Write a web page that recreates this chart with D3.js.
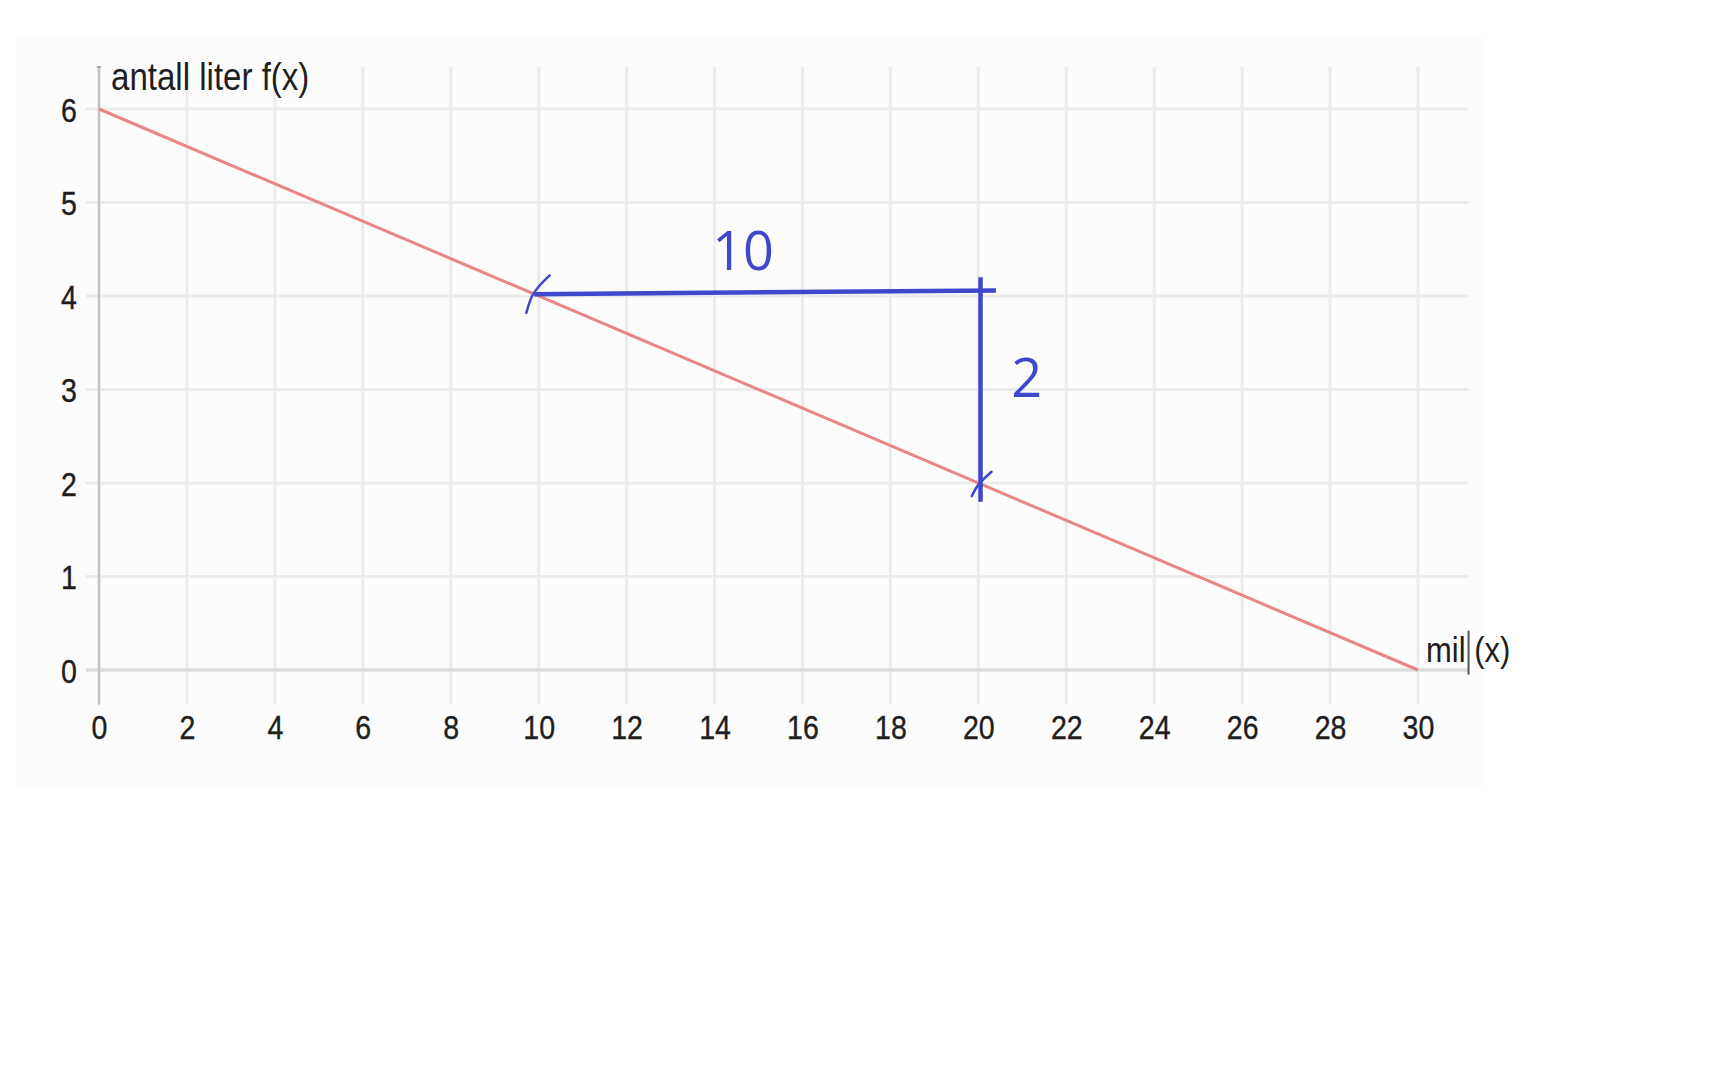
<!DOCTYPE html>
<html>
<head>
<meta charset="utf-8">
<script src="https://cdn.jsdelivr.net/npm/d3@7"></script>
<style>
  html, body { margin: 0; padding: 0; background: #ffffff; }
  svg { display: block; }
</style>
</head>
<body>
<svg id="chart" width="1728" height="1080"></svg>
<script>
// ---- data ----
const xTicks = [0, 2, 4, 6, 8, 10, 12, 14, 16, 18, 20, 22, 24, 26, 28, 30];
const yTicks = [0, 1, 2, 3, 4, 5, 6];
const xLabel = "mil (x)";
const yLabel = "antall liter f(x)";
// f(x) = 6 - x/5
const lineX = [0, 30];
const lineY = [6, 0];
// hand-drawn annotation (data units)
const runLineX = [9.9, 20.4];
const runLineY = [4.02, 4.06];
const riseLineX = [20.05, 20.05];
const riseLineY = [4.2, 1.8];
const tickMarkAX = [9.72, 9.85, 10.0, 10.25];
const tickMarkAY = [3.82, 4.0, 4.1, 4.22];
const tickMarkBX = [19.85, 20.0, 20.3];
const tickMarkBY = [1.86, 1.98, 2.12];
const annotLabels = ["10", "2"];
const annotX = [14.65, 21.1];
const annotY = [4.49, 3.13];

// ---- layout ----
const svg = d3.select("#chart");
const x = d3.scaleLinear().domain([0, 30]).range([99, 1418]);
const y = d3.scaleLinear().domain([0, 6]).range([670, 109]);
const xMax = 31.15, yMax = 6.45, yMinGrid = -0.37;
const font = "'Liberation Sans', Arial, sans-serif";
const ink = "#1e1e1e";

// light panel background
svg.append("rect").attr("x", 17).attr("y", 38).attr("width", 1465).attr("height", 750)
  .attr("fill", "#fcfcfc");

const grid = svg.append("g");
grid.selectAll("line.v").data(xTicks).join("line").attr("class", "v")
  .attr("x1", d => x(d)).attr("x2", d => x(d))
  .attr("y1", y(yMax)).attr("y2", y(yMinGrid))
  .attr("stroke", "#ececec").attr("stroke-width", 3);
grid.selectAll("line.h").data(yTicks).join("line").attr("class", "h")
  .attr("x1", x(-0.3)).attr("x2", x(xMax))
  .attr("y1", d => y(d)).attr("y2", d => y(d))
  .attr("stroke", d => d === 0 ? "#dcdcdc" : "#ececec").attr("stroke-width", d => d === 0 ? 3.5 : 3);

// y axis line
svg.append("line").attr("x1", x(0)).attr("x2", x(0)).attr("y1", y(yMax)).attr("y2", y(yMinGrid))
  .attr("stroke", "#c4c4c4").attr("stroke-width", 2.5);
svg.append("line").attr("x1", x(0) - 2).attr("x2", x(0) + 2).attr("y1", y(yMax)).attr("y2", y(yMax))
  .attr("stroke", "#999").attr("stroke-width", 1.5);
svg.append("line").attr("x1", x(xMax)).attr("x2", x(xMax)).attr("y1", y(-0.05)).attr("y2", y(0.42))
  .attr("stroke", "#555").attr("stroke-width", 2);

// x tick labels via d3 axis
const xAxis = svg.append("g").attr("transform", `translate(0,${y(0) + 45})`)
  .call(d3.axisBottom(x).tickValues(xTicks).tickSize(0).tickFormat(d3.format("d")));
xAxis.select(".domain").remove();
xAxis.selectAll(".tick text")
  .attr("font-family", font).attr("font-size", 34).attr("fill", ink)
  .attr("stroke", ink).attr("stroke-width", 0.4)
  .attr("x", 0).attr("y", 0).attr("dy", "0.71em").attr("text-anchor", "middle")
  .attr("transform", "scale(0.84,1)");

// y tick labels via d3 axis
const yAxis = svg.append("g").attr("transform", `translate(${x(0) - 30},0)`)
  .call(d3.axisLeft(y).tickValues(yTicks).tickSize(0).tickFormat(d3.format("d")));
yAxis.select(".domain").remove();
yAxis.selectAll(".tick text")
  .attr("font-family", font).attr("font-size", 34).attr("fill", ink)
  .attr("stroke", ink).attr("stroke-width", 0.4)
  .attr("x", 0).attr("dy", "0.36em").attr("text-anchor", "middle")
  .attr("transform", "scale(0.84,1)");

// axis titles
svg.append("text").attr("transform", `translate(${x(0) + 12},${y(6) - 19}) scale(0.87,1)`)
  .attr("font-family", font).attr("font-size", 38).attr("fill", ink).text(yLabel);
svg.append("text").attr("transform", `translate(${x(30) + 8},${y(0) - 8}) scale(0.86,1)`)
  .attr("font-family", font).attr("font-size", 36).attr("fill", ink).text(xLabel);

// function line
const linePts = lineX.map((d, i) => [d, lineY[i]]);
const line = d3.line().x(d => x(d[0])).y(d => y(d[1]));
svg.append("path").attr("d", line(linePts)).attr("fill", "none")
  .attr("stroke", "#e98585").attr("stroke-width", 3);

// annotations
const blue = "#3f48cc";
const zip = (a, b) => a.map((d, i) => [d, b[i]]);
svg.append("path").attr("d", line(zip(runLineX, runLineY))).attr("fill", "none")
  .attr("stroke", blue).attr("stroke-width", 4.5);
svg.append("path").attr("d", line(zip(riseLineX, riseLineY))).attr("fill", "none")
  .attr("stroke", blue).attr("stroke-width", 4.5);
const curve = d3.line().x(d => x(d[0])).y(d => y(d[1])).curve(d3.curveCatmullRom);
svg.append("path").attr("d", curve(zip(tickMarkAX, tickMarkAY))).attr("fill", "none")
  .attr("stroke", blue).attr("stroke-width", 2.5).attr("stroke-linecap", "round");
svg.append("path").attr("d", curve(zip(tickMarkBX, tickMarkBY))).attr("fill", "none")
  .attr("stroke", blue).attr("stroke-width", 2.5).attr("stroke-linecap", "round");

svg.selectAll("text.annot").data(annotLabels).join("text").attr("class", "annot")
  .attr("x", (d, i) => x(annotX[i])).attr("y", (d, i) => y(annotY[i]))
  .attr("text-anchor", "middle").attr("dy", "0.36em")
  .attr("font-family", "'Open Sans', 'Noto Sans', sans-serif")
  .attr("font-size", 54).attr("fill", blue).text(d => d);
</script>
</body>
</html>
